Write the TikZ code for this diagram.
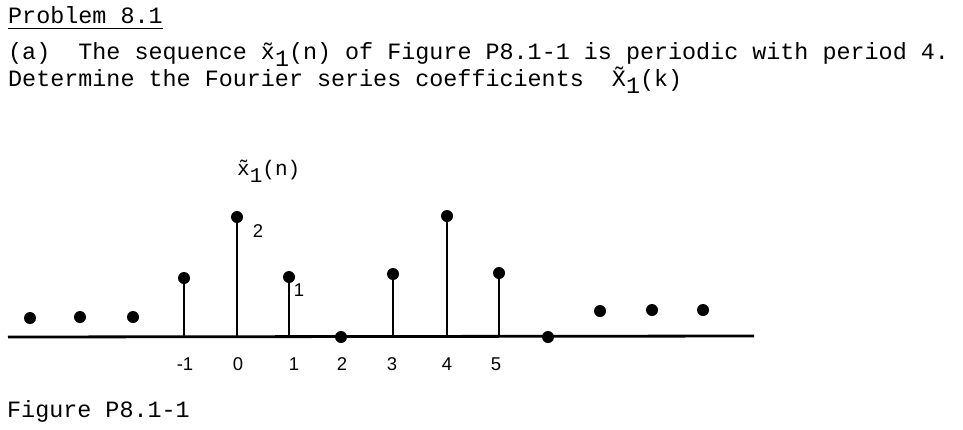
\documentclass[tikz,border=0pt]{standalone}
\usepackage{fontspec}
\setmainfont{Liberation Mono}
\newfontfamily\lsans{Liberation Sans}
\newcommand\sublow[1]{\raisebox{-7pt}{#1}}
\begin{document}
\begin{tikzpicture}[x=1pt,y=-1pt,
  txt/.style={anchor=base west, inner sep=0pt, font=\fontsize{23.4}{27}\selectfont},
  gtxt/.style={anchor=base west, inner sep=0pt, font=\fontsize{21}{25}\selectfont},
  lbl/.style={anchor=base, inner sep=0pt, font=\lsans\fontsize{18.5}{21}\selectfont},
  stemline/.style={line width=2pt},
  axisline/.style={line width=2.8pt},
  dotc/.style={circle, fill=black, inner sep=0pt, minimum size=12pt}]
\useasboundingbox[fill=white] (0,0) rectangle (963,429);

% header text
\node[txt] (p) at (8,23) {Problem 8.1};
\draw[line width=1.3pt] ([yshift=-5.5pt]p.base west) -- ([yshift=-5.5pt]p.base east);
\node[txt] (l2) at (8,59) {(a)~~The sequence \~{x}\sublow{1}(n) of Figure P8.1-1 is periodic with period 4.};
\node[txt] (l3) at (8,86) {Determine the Fourier series coefficients~~\~{X}\sublow{1}(k)};

% graph label
\node[gtxt] (xl) at (237,175) {\~{x}\sublow{1}(n)};

% axis
\coordinate (axL) at (8,337);
\coordinate (axR) at (754,336);
\draw[axisline] (axL) -- (axR);

% stems
\foreach \n/\x/\y in {m1/184/278, z0/237/217, p1/289/277, p3/393/274, p4/447/216, p5/499/273}{
  \node[dotc] (d\n) at (\x,\y) {};
  \coordinate (b\n) at (\x,337);
  \draw[stemline] (b\n) -- (d\n.center);
}
% zero samples on axis
\node[dotc] (dp2) at (341,337) {};
\node[dotc] (dp6) at (548,337) {};

% ellipsis dots
\node[dotc] (e1) at (30,318) {};
\node[dotc] (e2) at (80,317) {};
\node[dotc] (e3) at (133,317) {};
\node[dotc] (e4) at (600,311) {};
\node[dotc] (e5) at (652,310) {};
\node[dotc] (e6) at (703,310) {};

% value labels
\node[lbl] (v2) at (258,237) {2};
\node[lbl] (v1) at (299,296) {1};

% tick labels
\node[lbl] (t-1) at (185,370) {-1};
\node[lbl] (t0) at (238,370) {0};
\node[lbl] (t1) at (294,370) {1};
\node[lbl] (t2) at (342,370) {2};
\node[lbl] (t3) at (392,370) {3};
\node[lbl] (t4) at (447,370) {4};
\node[lbl] (t5) at (496,370) {5};

% caption
\node[txt] (cap) at (7,417) {Figure P8.1-1};
\end{tikzpicture}
\end{document}
